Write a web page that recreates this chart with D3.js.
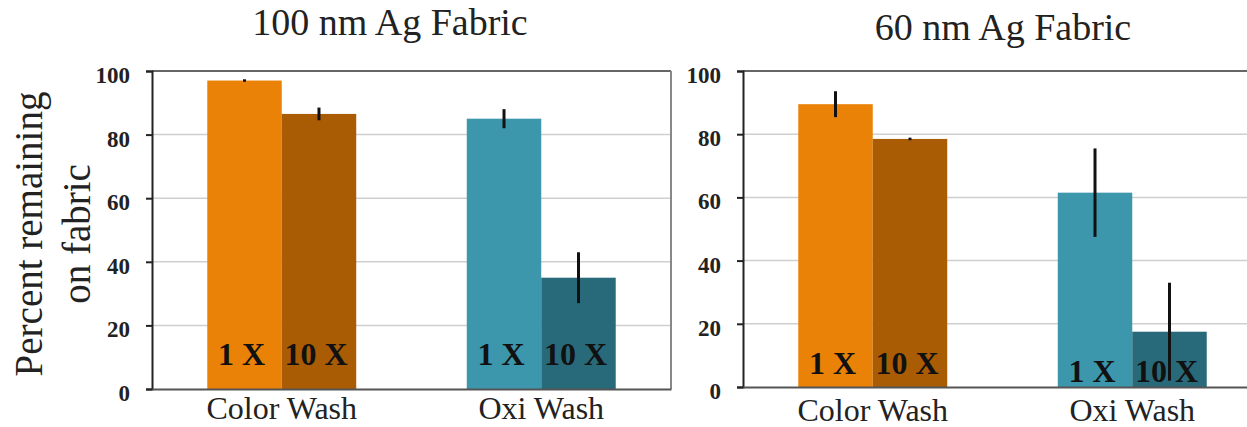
<!DOCTYPE html>
<html>
<head>
<meta charset="utf-8">
<script src="https://cdn.jsdelivr.net/npm/d3@7"></script>
<style>
  body { margin: 0; background: #fff; }
  svg { display: block; font-family: "Liberation Serif", "Times New Roman", serif; }
  svg text { font-family: "Liberation Serif", "Times New Roman", serif; }
</style>
</head>
<body>
<div id="chart"></div>
<script>
// categories and series
var categories = ["Color Wash", "Oxi Wash"];
var washes = ["1 X", "10 X"];
var yTicks = [0, 20, 40, 60, 80, 100];

// 100 nm Ag fabric - percent remaining (mean, error)
var ag100_1x = [97, 85];
var ag100_10x = [86.5, 35];
var ag100_1x_err = [0.4, 3];
var ag100_10x_err = [2, 8];

// 60 nm Ag fabric
var ag60_1x = [89.5, 61.5];
var ag60_10x = [78.5, 17.5];
var ag60_1x_err = [4.1, 14];
var ag60_10x_err = [0.4, 15.5];

var colors = {
    "Color Wash": ["#e98207", "#aa5c05"],
    "Oxi Wash": ["#3c96ac", "#296a7a"]
};

function rows(v1, v10, e1, e10) {
    var out = [];
    categories.forEach(function(c, i) {
        out.push({cat: c, wash: washes[0], value: v1[i], err: e1[i], color: colors[c][0]});
        out.push({cat: c, wash: washes[1], value: v10[i], err: e10[i], color: colors[c][1]});
    });
    return out;
}

var panels = [
    {title: "100 nm Ag Fabric", data: rows(ag100_1x, ag100_10x, ag100_1x_err, ag100_10x_err),
     left: 152, width: 519, top: 71, bottom: 389, titleX: 390, titleY: 35,
     labelLift: [24, 24], catY: 419},
    {title: "60 nm Ag Fabric", data: rows(ag60_1x, ag60_10x, ag60_1x_err, ag60_10x_err),
     left: 743, width: 519, top: 71, bottom: 387, titleX: 1003, titleY: 40,
     labelLift: [13, 5], catY: 421}
];

var svg = d3.select("#chart")
    .append("svg")
    .attr("width", 1247)
    .attr("height", 427);

// y axis title
var yTitle = svg.append("text")
    .attr("transform", "translate(0,234) rotate(-90)")
    .attr("text-anchor", "middle")
    .attr("font-size", 39)
    .attr("fill", "#222");
yTitle.append("tspan").attr("x", 0).attr("y", 42).text("Percent remaining");
yTitle.append("tspan").attr("x", 0).attr("y", 90).text("on fabric");

panels.forEach(function(p) {
    var g = svg.append("g").attr("transform", "translate(" + p.left + ",0)");

    var x = d3.scaleBand()
        .domain(categories)
        .range([0, p.width])
        .paddingInner(0.426)
        .paddingOuter(0.213);

    var xs = d3.scaleBand()
        .domain(washes)
        .range([0, x.bandwidth()]);

    var y = d3.scaleLinear()
        .domain([0, 100])
        .range([p.bottom, p.top]);

    // gridlines
    g.append("g")
        .selectAll("line")
        .data(yTicks.filter(function(d) { return d > 0 && d < 100; }))
        .enter()
        .append("line")
        .attr("x1", 0)
        .attr("x2", p.width)
        .attr("y1", function(d) { return y(d); })
        .attr("y2", function(d) { return y(d); })
        .attr("stroke", "#cfcfcf")
        .attr("stroke-width", 1.5);

    // frame: top and right
    g.append("line")
        .attr("x1", 0).attr("x2", p.width)
        .attr("y1", y(100)).attr("y2", y(100))
        .attr("stroke", "#333").attr("stroke-width", 1.5);
    g.append("line")
        .attr("x1", p.width).attr("x2", p.width)
        .attr("y1", y(100)).attr("y2", y(0))
        .attr("stroke", "#888").attr("stroke-width", 2);

    // bars
    g.selectAll("rect.bar")
        .data(p.data)
        .enter()
        .append("rect")
        .attr("class", "bar")
        .attr("x", function(d) { return x(d.cat) + xs(d.wash); })
        .attr("y", function(d) { return y(d.value); })
        .attr("width", xs.bandwidth())
        .attr("height", function(d) { return y(0) - y(d.value); })
        .attr("fill", function(d) { return d.color; });

    // bar labels
    g.selectAll("text.blab")
        .data(p.data)
        .enter()
        .append("text")
        .attr("class", "blab")
        .attr("x", function(d) { return x(d.cat) + xs(d.wash) + xs.bandwidth() / 2 - 3; })
        .attr("y", function(d) { return y(0) - p.labelLift[categories.indexOf(d.cat)]; })
        .attr("text-anchor", "middle")
        .attr("font-size", 32)
        .attr("font-weight", "bold")
        .attr("fill", "#111")
        .text(function(d) { return d.wash; });

    // error bars
    g.selectAll("line.err")
        .data(p.data)
        .enter()
        .append("line")
        .attr("class", "err")
        .attr("x1", function(d) { return x(d.cat) + xs(d.wash) + xs.bandwidth() / 2; })
        .attr("x2", function(d) { return x(d.cat) + xs(d.wash) + xs.bandwidth() / 2; })
        .attr("y1", function(d) { return y(d.value + d.err); })
        .attr("y2", function(d) { return y(Math.max(0, d.value - d.err)); })
        .attr("stroke", "#111")
        .attr("stroke-width", 3);

    // y axis
    var ya = g.append("g")
        .call(d3.axisLeft(y).tickValues(yTicks).tickSize(6).tickPadding(16));
    ya.attr("font-family", null);
    ya.select(".domain").attr("stroke", "#222").attr("stroke-width", 2);
    ya.selectAll(".tick line").attr("stroke", "#222").attr("stroke-width", 2);
    ya.selectAll(".tick text")
        .attr("dy", "0.5em")
        .style("font-size", "23px")
        .style("font-weight", "bold")
        .attr("fill", "#222");

    // x axis
    var xa = g.append("g")
        .attr("transform", "translate(0," + y(0) + ")")
        .call(d3.axisBottom(x).tickSize(0).tickPadding(0));
    xa.attr("font-family", null);
    xa.select(".domain").attr("stroke", "#555").attr("stroke-width", 2);
    xa.selectAll(".tick text")
        .attr("y", p.catY - y(0))
        .attr("dy", 0)
        .style("font-size", "32px")
        .attr("fill", "#222");

    // panel title
    svg.append("text")
        .attr("x", p.titleX)
        .attr("y", p.titleY)
        .attr("text-anchor", "middle")
        .attr("font-size", 38)
        .attr("fill", "#222")
        .text(p.title);
});
</script>
</body>
</html>
